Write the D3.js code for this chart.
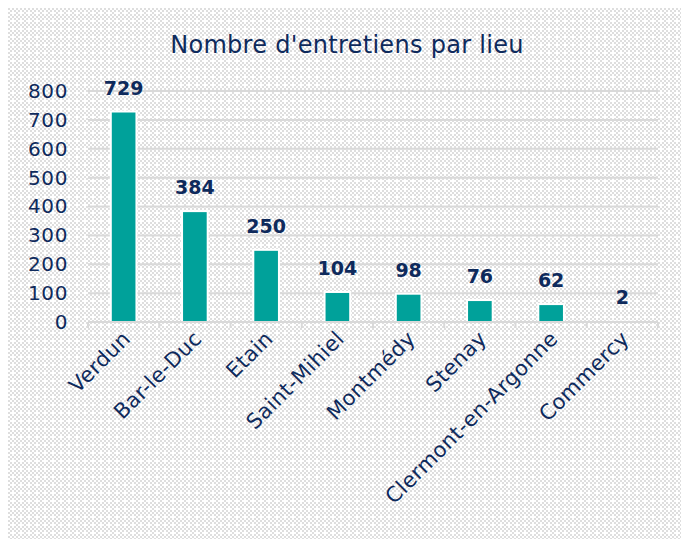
<!DOCTYPE html>
<html>
<head>
<meta charset="utf-8">
<script src="https://cdn.jsdelivr.net/npm/d3@7"></script>
<style>
  html, body { margin: 0; padding: 0; background: #ffffff; }
  svg { display: block; }
</style>
</head>
<body>
<svg id="chart" width="681" height="539"></svg>
<script>
// Interview counts per location
const categories = ["Verdun", "Bar-le-Duc", "Etain", "Saint-Mihiel", "Montmédy", "Stenay", "Clermont-en-Argonne", "Commercy"];
const values = [729, 384, 250, 104, 98, 76, 62, 2];
const yTicks = [0, 100, 200, 300, 400, 500, 600, 700, 800];
const title = "Nombre d'entretiens par lieu";

const navy = "#0e2a5c";
const teal = "#00a19a";
const grid = "#d9d9d9";
const font = "'DejaVu Sans', sans-serif";

const svg = d3.select("#chart");

// Checkerboard background fill
const defs = svg.append("defs");
const pat = defs.append("pattern")
  .attr("id", "checker")
  .attr("patternUnits", "userSpaceOnUse")
  .attr("width", 8).attr("height", 8);
pat.append("rect").attr("width", 8).attr("height", 8).attr("fill", "#ffffff");
[[0,0],[4,0],[2,2],[6,2],[0,4],[2,6],[6,6]].forEach(([x, y]) => {
  pat.append("rect").attr("x", x).attr("y", y).attr("width", 2).attr("height", 2).attr("fill", "#dedede");
});

svg.append("rect")
  .attr("x", 8).attr("y", 8)
  .attr("width", 673).attr("height", 531)
  .attr("fill", "url(#checker)");

const margin = { left: 88, right: 23, top: 91, bottom: 217 };
const width = 681 - margin.left - margin.right;
const plotBottom = 322;

const x = d3.scaleBand()
  .domain(categories)
  .range([margin.left, margin.left + width])
  .paddingInner(0.64)
  .paddingOuter(0.32);

const y = d3.scaleLinear()
  .domain([0, 800])
  .range([plotBottom, margin.top]);

// Title
svg.append("text")
  .attr("x", 347).attr("y", 53)
  .attr("text-anchor", "middle")
  .attr("font-family", font)
  .attr("font-size", 24)
  .attr("letter-spacing", 0.3)
  .attr("fill", navy)
  .text(title);

// Gridlines
svg.append("g")
  .selectAll("line")
  .data(yTicks.filter(d => d > 0))
  .join("line")
  .attr("x1", margin.left).attr("x2", margin.left + width)
  .attr("y1", d => y(d)).attr("y2", d => y(d))
  .attr("stroke", grid).attr("stroke-width", 2);

// Y axis labels
const yAxis = svg.append("g")
  .attr("transform", `translate(${margin.left},0)`)
  .call(d3.axisLeft(y).tickValues(yTicks).tickSize(0).tickPadding(20));
yAxis.select(".domain").remove();
yAxis.selectAll("text")
  .attr("font-family", font)
  .attr("font-size", 20)
  .attr("letter-spacing", 0.6)
  .attr("fill", navy);

// Bars
svg.append("g")
  .selectAll("rect")
  .data(values)
  .join("rect")
  .attr("x", (d, i) => x(categories[i]))
  .attr("width", x.bandwidth())
  .attr("y", d => y(d))
  .attr("height", d => plotBottom - y(d))
  .attr("fill", teal)
  .attr("stroke", "#ffffff")
  .attr("stroke-width", 2);

// X axis line with boundary ticks
svg.append("line")
  .attr("x1", margin.left).attr("x2", margin.left + width)
  .attr("y1", plotBottom).attr("y2", plotBottom)
  .attr("stroke", grid).attr("stroke-width", 2);
const step = x.step();
svg.append("g")
  .selectAll("line")
  .data(d3.range(categories.length + 1))
  .join("line")
  .attr("x1", i => margin.left + i * step).attr("x2", i => margin.left + i * step)
  .attr("y1", plotBottom).attr("y2", plotBottom + 6)
  .attr("stroke", grid).attr("stroke-width", 2);

// Value labels
svg.append("g")
  .selectAll("text")
  .data(values)
  .join("text")
  .attr("x", (d, i) => x(categories[i]) + x.bandwidth() / 2)
  .attr("y", d => y(d) - 17)
  .attr("text-anchor", "middle")
  .attr("font-family", font)
  .attr("font-size", 19)
  .attr("font-weight", "bold")
  .attr("fill", navy)
  .text(d => d);

// Category labels, rotated
svg.append("g")
  .selectAll("text")
  .data(categories)
  .join("text")
  .attr("transform", d => `translate(${x(d) + x.bandwidth() / 2 + 8},${plotBottom + 18}) rotate(-45)`)
  .attr("text-anchor", "end")
  .attr("font-family", font)
  .attr("font-size", 21)
  .attr("letter-spacing", 0.4)
  .attr("fill", navy)
  .text(d => d);
</script>
</body>
</html>
